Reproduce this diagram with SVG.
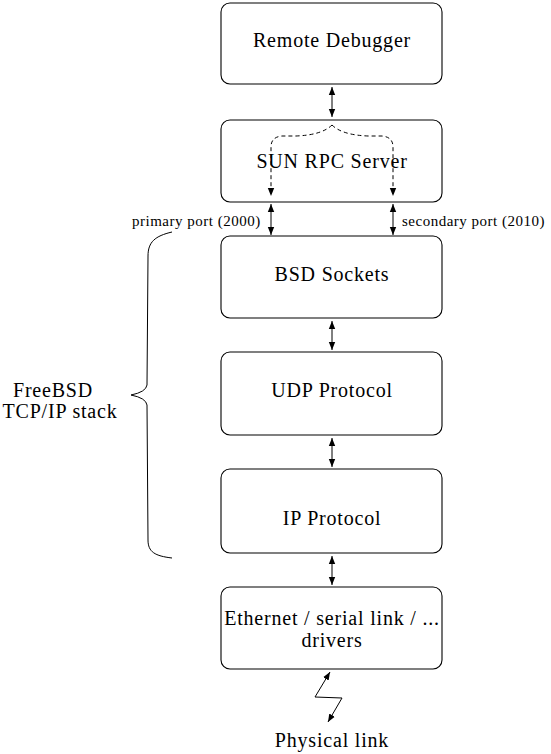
<svg xmlns="http://www.w3.org/2000/svg" width="551" height="754" viewBox="0 0 551 754">
<style>
.box{fill:#fff;stroke:#000;stroke-width:1.1}
.t{font-family:'Liberation Serif','Times New Roman','DejaVu Serif',serif;font-size:20px;letter-spacing:0.8px;text-anchor:middle;fill:#000}
.s{font-family:'Liberation Serif','Times New Roman','DejaVu Serif',serif;font-size:15px;letter-spacing:0.5px;fill:#000}
.c{fill:none;stroke:#000;stroke-width:1}
.d{fill:none;stroke:#000;stroke-width:1;stroke-dasharray:4 3}
</style>
<defs>
<marker id="ah" viewBox="0 0 10 10" refX="10" refY="5" markerWidth="8" markerHeight="8" markerUnits="userSpaceOnUse" orient="auto-start-reverse">
<path d="M0,1 L10,5 L0,9 Z" fill="#000"/>
</marker>
</defs>
<rect width="551" height="754" fill="#fff"/>
<g id="remote-debugger"><rect class="box" x="221" y="3" width="221" height="81" rx="9"/><text class="t" x="332" y="47" font-family="Liberation Serif, serif">Remote Debugger</text></g>
<g id="sun-rpc-server"><rect class="box" x="221" y="120" width="221" height="82" rx="9"/><text class="t" x="332" y="168">SUN RPC Server</text></g>
<g id="bsd-sockets"><rect class="box" x="221" y="236" width="221" height="82" rx="9"/><text class="t" x="332" y="281">BSD Sockets</text></g>
<g id="udp-protocol"><rect class="box" x="221" y="352" width="221" height="83" rx="9"/><text class="t" x="332" y="397">UDP Protocol</text></g>
<g id="ip-protocol"><rect class="box" x="221" y="469" width="221" height="84" rx="9"/><text class="t" x="332" y="525">IP Protocol</text></g>
<g id="drivers"><rect class="box" x="221" y="587" width="221" height="82" rx="9"/><text class="t" x="332" y="625">Ethernet / serial link / ...</text><text class="t" x="332" y="647">drivers</text></g>
<g id="physical-link"><text class="t" x="332" y="747">Physical link</text></g>
<g id="freebsd-stack"><path class="c" d="M172,232 C155,236 148,242 148,256 L147,385 Q146,392 131,395 Q146,398 147,405 L148,540 C148,552 155,556 172,558"/><text class="t" x="53" y="397">FreeBSD</text><text class="t" x="60" y="418">TCP/IP stack</text></g>
<g id="connectors">
<line class="c" x1="332" y1="87" x2="332" y2="117" marker-start="url(#ah)" marker-end="url(#ah)"/>
<path class="d" d="M332,125 Q322,135 296,136 L282,136 Q271,137 271,147 L271,196" marker-end="url(#ah)"/>
<path class="d" d="M332,125 Q342,135 368,136 L382,136 Q393,137 393,147 L393,196" marker-end="url(#ah)"/>
<line class="c" x1="271" y1="204" x2="271" y2="235" marker-start="url(#ah)" marker-end="url(#ah)"/>
<line class="c" x1="393" y1="204" x2="393" y2="235" marker-start="url(#ah)" marker-end="url(#ah)"/>
<line class="c" x1="332" y1="321" x2="332" y2="350" marker-start="url(#ah)" marker-end="url(#ah)"/>
<line class="c" x1="332" y1="438" x2="332" y2="467" marker-start="url(#ah)" marker-end="url(#ah)"/>
<line class="c" x1="332" y1="556" x2="332" y2="585" marker-start="url(#ah)" marker-end="url(#ah)"/>
<path class="c" d="M330,672 L315,697 L342,698 L328,722" marker-start="url(#ah)" marker-end="url(#ah)"/>
<text class="s" x="132" y="226">primary port (2000)</text>
<text class="s" x="402" y="226">secondary port (2010)</text>
</g>
</svg>
